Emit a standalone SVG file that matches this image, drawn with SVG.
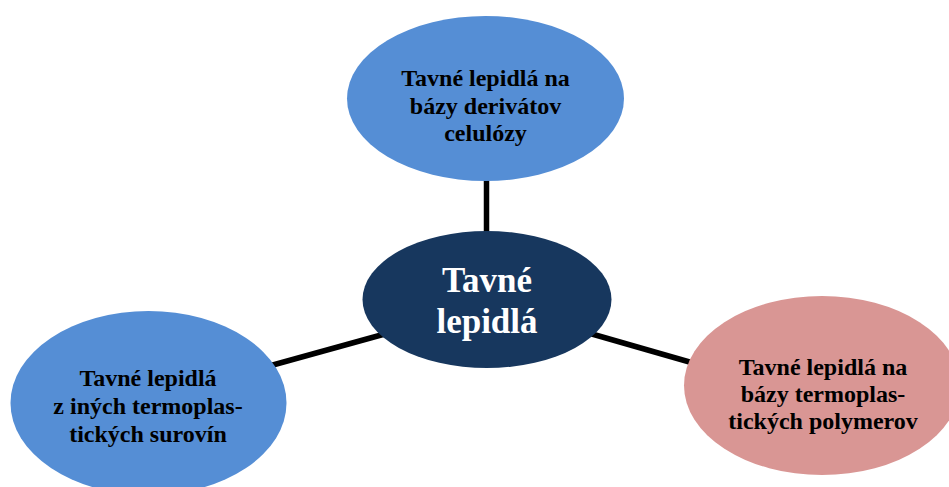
<svg xmlns="http://www.w3.org/2000/svg" width="949" height="487" viewBox="0 0 949 487">
<style>
.lbl{font-family:"Liberation Serif","Times New Roman",serif;font-weight:bold;font-size:24px;fill:#000;text-anchor:middle}
.ctr{font-family:"Liberation Serif","Times New Roman",serif;font-weight:bold;font-size:35px;fill:#fff;text-anchor:middle}
.conn{stroke:#000;stroke-width:5.5;fill:none}
</style>
<rect width="949" height="487" fill="#fff"/>
<g id="connectors">
<line class="conn" x1="486.5" y1="170" x2="486.5" y2="240"/>
<line class="conn" x1="262" y1="368" x2="392" y2="332"/>
<line class="conn" x1="585" y1="332" x2="700" y2="365"/>
</g>
<g id="node-top">
<ellipse cx="485.5" cy="98.5" rx="138.5" ry="82.5" fill="#558ED5"/>
<text class="lbl" x="485.5" y="86">Tavné lepidlá na</text>
<text class="lbl" x="485.5" y="113.5">bázy derivátov</text>
<text class="lbl" x="485.5" y="141">celulózy</text>
</g>
<g id="node-center">
<ellipse cx="487" cy="299.5" rx="124.5" ry="68.5" fill="#17375E"/>
<text class="ctr" x="487" y="292">Tavné</text>
<text class="ctr" x="487" y="333">lepidlá</text>
</g>
<g id="node-left">
<ellipse cx="148.5" cy="403" rx="138" ry="92" fill="#558ED5"/>
<text class="lbl" x="148" y="386">Tavné lepidlá</text>
<text class="lbl" x="148" y="414">z iných termoplas-</text>
<text class="lbl" x="148" y="442">tických surovín</text>
</g>
<g id="node-right">
<ellipse cx="822" cy="385.5" rx="138" ry="89.5" fill="#D99694"/>
<text class="lbl" x="823" y="375">Tavné lepidlá na</text>
<text class="lbl" x="823" y="402">bázy termoplas-</text>
<text class="lbl" x="823" y="428.5">tických polymerov</text>
</g>
</svg>
